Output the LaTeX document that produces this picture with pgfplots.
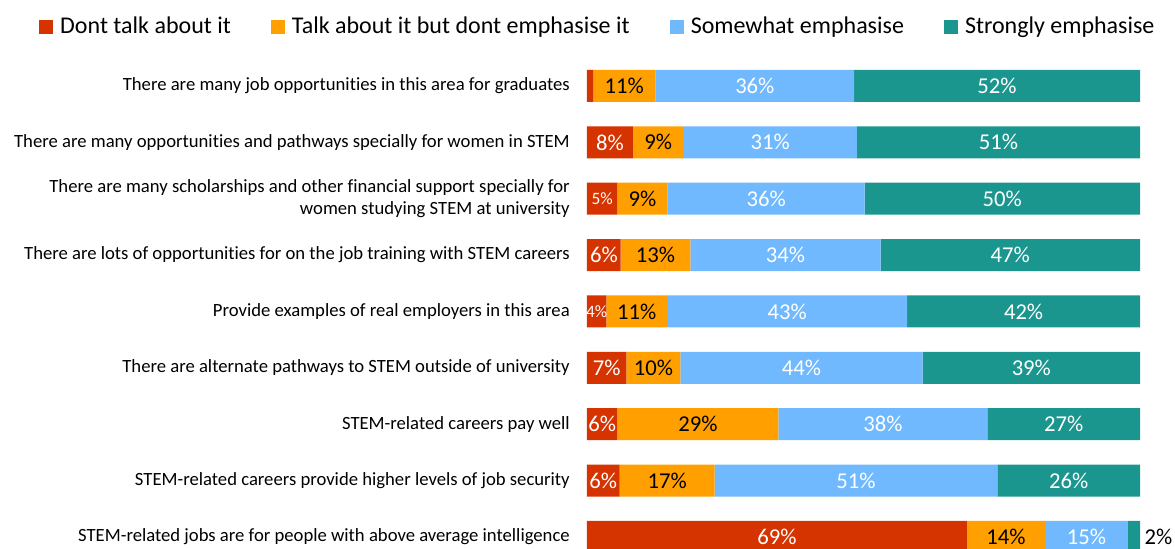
\documentclass[border=0pt]{standalone}
\usepackage{fontspec}
\setmainfont{Carlito}[Ligatures=CommonOff]
\usepackage{pgfplots}
\usepackage{pgfplotstable}
\pgfplotsset{compat=1.18}

\definecolor{cRed}{RGB}{213,51,0}
\definecolor{cOrange}{RGB}{255,160,0}
\definecolor{cBlue}{RGB}{112,185,255}
\definecolor{cTeal}{RGB}{27,150,143}

\newcommand\sm[1]{{\fontsize{13}{15}\selectfont #1}}

% shares of each answer per statement (percent)
\pgfplotstableread{
idx a b c d la lb lc ld le
1 1.1 11.3 35.9 51.7 {} 11\% 36\% 52\% {}
2 8.3 9.2 31.3 51.2 8\% 9\% 31\% 51\% {}
3 5.5 9.1 35.6 49.8 \sm{5\%} 9\% 36\% 50\% {}
4 6.1 12.6 34.4 46.9 6\% 13\% 34\% 47\% {}
5 3.5 11.0 43.4 42.1 \sm{4\%} 11\% 43\% 42\% {}
6 7.1 9.8 43.8 39.3 7\% 10\% 44\% 39\% {}
7 5.5 29.1 37.8 27.6 6\% 29\% 38\% 27\% {}
8 5.9 17.2 51.1 25.8 6\% 17\% 51\% 26\% {}
9 68.7 14.1 15.0 2.2 69\% 14\% 15\% {} 2\%
}\datatable

\pgfplotsset{
  frame/.style={
    at={(440.25pt,0pt)}, anchor=south west,
    scale only axis, width=414.75pt, height=368.4pt,
    xmin=0, xmax=100, ymin=0.5, ymax=9.213, y dir=reverse,
  },
  lbl/.style={draw=none, mark=none, nodes near coords, point meta=explicit symbolic,
    every node near coord/.append style={anchor=center, font=\fontsize{17}{20}\selectfont, text=#1}},
}

\begin{document}
\begin{tikzpicture}
\begin{axis}[
  frame,
  xbar stacked, bar width=24pt,
  axis line style={draw=none}, xtick=\empty,
  ytick={1,...,9}, major tick length=0pt, ytick style={draw=none},
  yticklabels={
    There are many job opportunities in this area for graduates,
    There are many opportunities and pathways specially for women in STEM,
    {There are many scholarships and other financial support specially for\\women studying STEM at university},
    There are lots of opportunities for on the job training with STEM careers,
    Provide examples of real employers in this area,
    There are alternate pathways to STEM outside of university,
    STEM-related careers pay well,
    STEM-related careers provide higher levels of job security,
    STEM-related jobs are for people with above average intelligence},
  yticklabel style={font=\fontsize{14}{16.5}\selectfont, align=right, inner sep=0pt, xshift=-12.75pt},
  legend columns=-1,
  legend image code/.code={\fill[#1] (0pt,-5.5pt) rectangle (10.5pt,5pt); \path (15.75pt,0pt);},
  legend style={at={(axis description cs:-0.991,1.064)}, anchor=west, draw=none, fill=none,
    inner sep=0pt, nodes={inner sep=0pt}, font=\fontsize{18}{21}\selectfont,
    /tikz/every even column/.append style={column sep=30pt}},
]
\addplot[fill=cRed, draw=none] table[x=a, y=idx] {\datatable};
\addplot[fill=cOrange, draw=none] table[x=b, y=idx] {\datatable};
\addplot[fill=cBlue, draw=none] table[x=c, y=idx] {\datatable};
\addplot[fill=cTeal, draw=none] table[x=d, y=idx] {\datatable};
\legend{Dont talk about it, Talk about it but dont emphasise it, Somewhat emphasise, Strongly emphasise}
\end{axis}
\begin{axis}[frame, hide axis, clip=false]
\addplot[lbl=white] table[x expr=\thisrow{a}/2, y=idx, meta=la] {\datatable};
\addplot[lbl=black] table[x expr=\thisrow{a}+\thisrow{b}/2, y=idx, meta=lb] {\datatable};
\addplot[lbl=white] table[x expr=\thisrow{a}+\thisrow{b}+\thisrow{c}/2, y=idx, meta=lc] {\datatable};
\addplot[lbl=white] table[x expr=\thisrow{a}+\thisrow{b}+\thisrow{c}+\thisrow{d}/2, y=idx, meta=ld] {\datatable};
\addplot[lbl=black, every node near coord/.append style={anchor=west}]
  table[x expr=\thisrow{a}+\thisrow{b}+\thisrow{c}+\thisrow{d}, y=idx, meta=le] {\datatable};
\end{axis}
\pgfresetboundingbox
\path[use as bounding box] (0pt,0pt) rectangle (881.25pt,411.75pt);
\end{tikzpicture}
\end{document}
